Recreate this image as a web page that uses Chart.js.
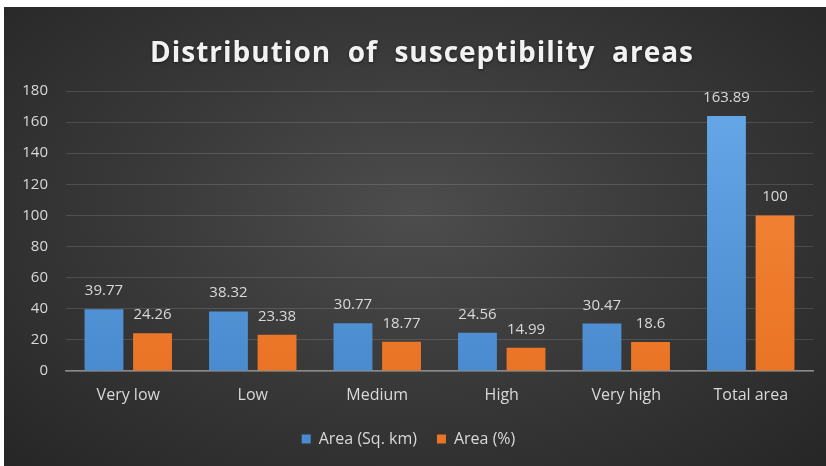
<!DOCTYPE html>
<html>
<head>
<meta charset="utf-8">
<script src="https://cdn.jsdelivr.net/npm/chart.js@4"></script>
<style>
    html, body { margin: 0; padding: 0; background: #ffffff; }
    #wrap {
        position: absolute; left: 4px; top: 7px; width: 822px; height: 459px;
        background: radial-gradient(ellipse at 50% 45%, #4d4d4d 0%, #3a3a3a 45%, #262626 100%);
    }
</style>
</head>
<body>
<div id="wrap"><canvas id="chart"></canvas></div>
<script>
const CATEGORIES = ['Very low', 'Low', 'Medium', 'High', 'Very high', 'Total area'];
const AREA_KM = [39.77, 38.32, 30.77, 24.56, 30.47, 163.89];
const AREA_PCT = [24.26, 23.38, 18.77, 14.99, 18.6, 100];
const Y_TICKS = [0, 20, 40, 60, 80, 100, 120, 140, 160, 180];
const TITLE = 'Distribution  of  susceptibility  areas';

const FONT = '"Open Sans", Lato, sans-serif';
const TEXT_COLOR = '#d9d9d9';

const barGradient = (top, bottom) => (ctx) => {
    const area = ctx.chart.chartArea;
    if (!area) return bottom;
    const g = ctx.chart.ctx.createLinearGradient(0, area.top, 0, area.bottom);
    g.addColorStop(0, top);
    g.addColorStop(1, bottom);
    return g;
};

// title drawn by hand so the letter spacing can follow the original
const spacedTitle = {
    id: 'spacedTitle',
    afterDraw(chart) {
        const { ctx } = chart;
        ctx.save();
        ctx.font = 'bold 28px ' + FONT;
        ctx.letterSpacing = '1px';
        ctx.fillStyle = '#f2f2f2';
        ctx.textAlign = 'center';
        ctx.textBaseline = 'alphabetic';
        ctx.shadowColor = 'rgba(0,0,0,0.5)';
        ctx.shadowBlur = 3;
        ctx.shadowOffsetY = 1;
        ctx.fillText(TITLE, 418, 55);
        ctx.restore();
    }
};

const valueLabels = {
    id: 'valueLabels',
    afterDatasetsDraw(chart) {
        const { ctx } = chart;
        ctx.save();
        ctx.font = '15px ' + FONT;
        ctx.fillStyle = TEXT_COLOR;
        ctx.textAlign = 'center';
        ctx.textBaseline = 'alphabetic';
        chart.data.datasets.forEach((ds, i) => {
            chart.getDatasetMeta(i).data.forEach((bar, j) => {
                ctx.fillText(String(ds.data[j]), bar.x, bar.y - 14);
            });
        });
        ctx.restore();
    }
};

new Chart(document.getElementById('chart'), {
    type: 'bar',
    data: {
        labels: CATEGORIES,
        datasets: [
            {
                label: 'Area (Sq. km)',
                data: AREA_KM,
                backgroundColor: barGradient('#66a8e8', '#4a8bcf'),
                categoryPercentage: 0.78,
                barPercentage: 0.80
            },
            {
                label: 'Area (%)',
                data: AREA_PCT,
                backgroundColor: barGradient('#f68a3c', '#ea7425'),
                categoryPercentage: 0.78,
                barPercentage: 0.80
            }
        ]
    },
    options: {
        responsive: true,
        maintainAspectRatio: false,
        animation: false,
        layout: { padding: { left: 0, right: 13, top: 84, bottom: 9 } },
        plugins: {
            title: { display: false },
            legend: {
                position: 'bottom',
                labels: {
                    color: TEXT_COLOR,
                    font: { family: FONT, size: 16 },
                    boxWidth: 9,
                    boxHeight: 9,
                    padding: 20
                }
            },
            tooltip: { enabled: false }
        },
        scales: {
            x: {
                grid: { display: false },
                border: { color: '#8a8a8a', width: 1.5 },
                ticks: { color: TEXT_COLOR, font: { family: FONT, size: 16 }, padding: 7 },
                afterFit: (axis) => { axis.height = 40; }
            },
            y: {
                min: 0,
                max: 180,
                afterBuildTicks: (axis) => { axis.ticks = Y_TICKS.map((v) => ({ value: v })); },
                grid: { color: 'rgba(255,255,255,0.13)', drawTicks: false },
                border: { display: false },
                ticks: { color: TEXT_COLOR, font: { family: FONT, size: 15 }, padding: 18 },
                afterFit: (axis) => { axis.width = 62; }
            }
        }
    },
    plugins: [valueLabels, spacedTitle]
});
</script>
</body>
</html>
